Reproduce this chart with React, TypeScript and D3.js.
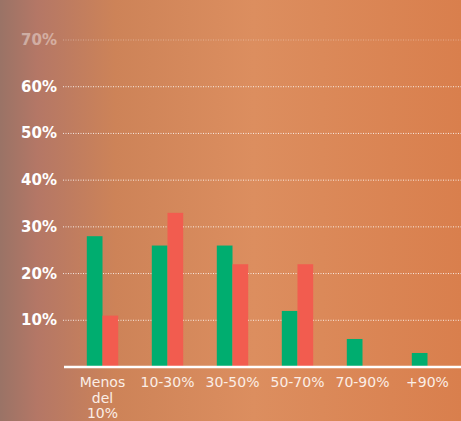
import * as d3 from 'd3'

const categories = ['Menos del 10%', '10-30%', '30-50%', '50-70%', '70-90%', '+90%']
const greenValues = [28, 26, 26, 12, 6, 3]
const redValues = [11, 33, 22, 22, 0, 0]
const yTicks = [10, 20, 30, 40, 50, 60, 70]

const width = 461
const height = 421

export default function App() {
  const x0 = d3.scaleBand<string>()
    .domain(categories)
    .range([70, 460])
    .paddingInner(0.517)
    .paddingOuter(0.2585)
  const x1 = d3.scaleBand<string>()
    .domain(['green', 'red'])
    .range([0, x0.bandwidth()])
  const y = d3.scaleLinear().domain([0, 70]).range([367, 40])

  const series = [
    { key: 'green', values: greenValues, color: '#00ad6f' },
    { key: 'red', values: redValues, color: '#f25c4f' },
  ]

  return (
    <svg
      width={width}
      height={height}
      style={{ position: 'absolute', left: 0, top: 0 }}
      fontFamily="'DejaVu Sans', sans-serif"
    >
      <defs>
        <linearGradient id="bg" x1="0" y1="0" x2="1" y2="0">
          <stop offset="0%" stopColor="#9a7366" />
          <stop offset="8%" stopColor="#b47766" />
          <stop offset="25%" stopColor="#cd8358" />
          <stop offset="55%" stopColor="#dc8e5f" />
          <stop offset="100%" stopColor="#d97f4d" />
        </linearGradient>
      </defs>
      <rect width={width} height={height} fill="url(#bg)" />

      {yTicks.map(t => (
        <g key={t} opacity={t === 70 ? 0.4 : 1}>
          <line
            x1={63}
            x2={width}
            y1={y(t)}
            y2={y(t)}
            stroke="#fff"
            strokeOpacity={0.85}
            strokeWidth={1}
            strokeDasharray="1,1.5"
          />
          <text
            x={57}
            y={y(t) + 5}
            textAnchor="end"
            fill="#fff"
            fontWeight="bold"
            fontSize={15}
          >
            {t}%
          </text>
        </g>
      ))}

      {categories.map((c, i) => (
        <g key={c} transform={`translate(${x0(c)},0)`}>
          {series.map(s => s.values[i] > 0 && (
            <rect
              key={s.key}
              x={x1(s.key)}
              y={y(s.values[i])}
              width={x1.bandwidth()}
              height={y(0) - y(s.values[i])}
              fill={s.color}
            />
          ))}
        </g>
      ))}

      <line x1={64} x2={width} y1={y(0)} y2={y(0)} stroke="#fff" strokeWidth={2.5} />

      {categories.map(c => {
        const cx = (x0(c) ?? 0) + x0.bandwidth() / 2
        const lines = c === 'Menos del 10%' ? ['Menos', 'del', '10%'] : [c]
        return (
          <text key={c} x={cx} y={387} textAnchor="middle" fill="#fbeee6" fontSize={14}>
            {lines.map((l, j) => (
              <tspan key={j} x={cx} dy={j === 0 ? 0 : 15.5}>{l}</tspan>
            ))}
          </text>
        )
      })}
    </svg>
  )
}
